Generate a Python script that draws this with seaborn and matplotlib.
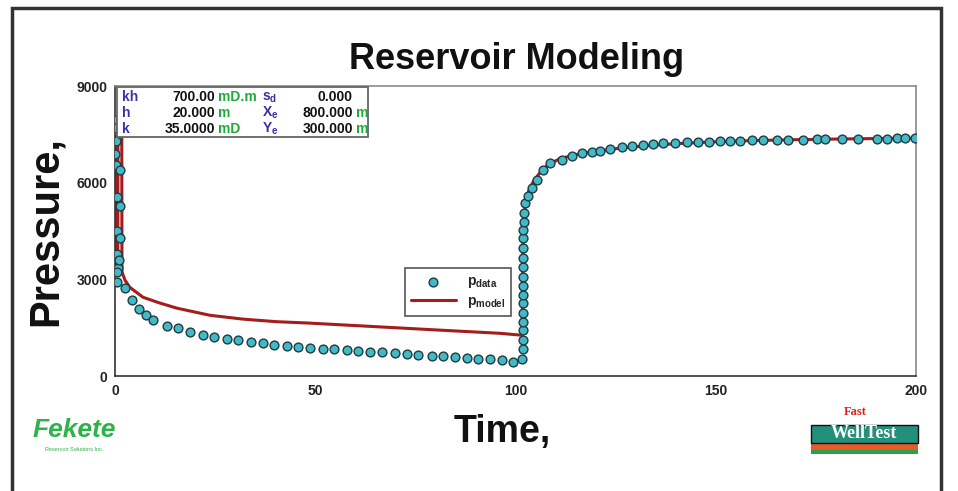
import numpy as np
import pandas as pd
import matplotlib
matplotlib.use("Agg")
import matplotlib.pyplot as plt
import matplotlib.patches as mpatches
import seaborn as sns

# Measured pressure points (time, pressure)
data_time = [0.0, 0.1, 0.2, 0.0, 0.3, 0.4, 0.5, 0.6, 0.7, 1.2, 1.3, 1.3, 0.9,
             0.5, 0.5, 2.5, 4.2, 6.0, 7.7, 9.5, 13.0, 15.7, 18.7, 22.0, 24.7,
             28.0, 30.7, 34.0, 37.0, 39.7, 43.0, 45.7, 48.7, 51.9, 54.7, 57.9,
             60.7, 63.7, 66.7, 69.9, 72.9, 75.7, 79.2, 81.9, 84.9, 87.9, 90.6,
             93.6, 96.6, 99.4, 101.7,
             101.9, 101.9, 101.9, 101.9, 101.9, 101.9, 101.9, 101.9, 101.9,
             101.9, 101.9, 101.9, 102.0, 102.0, 102.1, 102.2, 102.4,
             103.1, 104.1, 105.4, 106.9, 108.6, 111.6, 114.1, 116.6, 119.1,
             121.1, 123.6, 126.6, 129.1, 131.8, 134.3, 136.8, 139.8, 142.8,
             145.6, 148.3, 151.1, 153.6, 156.1, 159.0, 161.8, 165.3, 168.0,
             171.8, 175.3, 177.3, 181.5, 185.5, 190.3, 192.8, 195.3, 197.3,
             199.8]
data_pressure = [7950, 7700, 7300, 6900, 6550, 5550, 4500, 3800, 3350, 6400,
                 5300, 4300, 3600, 3230, 2920, 2730, 2360, 2080, 1890, 1740,
                 1550, 1490, 1370, 1270, 1210, 1150, 1120, 1060, 1020, 960,
                 930, 900, 880, 855, 830, 805, 780, 755, 735, 710, 685, 660,
                 635, 615, 590, 565, 545, 520, 500, 450, 540,
                 840, 1120, 1430, 1680, 1960, 2270, 2520, 2800, 3070, 3390,
                 3660, 3980, 4290, 4530, 4780, 5060, 5370,
                 5600, 5850, 6090, 6400, 6610, 6710, 6830, 6930, 6960, 6990,
                 7050, 7110, 7140, 7170, 7200, 7230, 7240, 7260, 7270, 7280,
                 7300, 7300, 7310, 7320, 7330, 7335, 7340, 7350, 7360, 7365,
                 7370, 7375, 7380, 7380, 7385, 7385, 7390]

# Model pressure curve
model_time = [0.0, 0.02, 0.7, 0.75, 1.7, 1.75, 2.0, 2.5, 3.7, 7.0, 11.2, 15.5,
              23.7, 32.0, 40.4, 48.0, 63.0, 79.4, 96.1, 101.6,
              101.7, 101.9, 102.2, 102.6, 103.3, 104.5, 106.0, 108.0, 111.0,
              115.0, 120.0, 126.0, 133.0, 140.0, 150.0, 160.0, 170.0, 180.0,
              190.0, 200.0]
model_pressure = [7450, 3400, 3300, 7450, 7450, 3250, 3150, 2980, 2760, 2450,
                  2270, 2110, 1890, 1770, 1690, 1650, 1550, 1440, 1330, 1270,
                  1270, 4200, 5000, 5450, 5750, 6050, 6300, 6550, 6750, 6880,
                  6980, 7080, 7160, 7220, 7280, 7320, 7345, 7365, 7380, 7390]

df_data = pd.DataFrame({"Time": data_time, "Pressure": data_pressure})
df_model = pd.DataFrame({"Time": model_time, "Pressure": model_pressure})

sns.set_style("white")
plt.rcParams["font.family"] = ["Liberation Sans", "DejaVu Sans"]
plt.rcParams["mathtext.fontset"] = "custom"
plt.rcParams["mathtext.rm"] = "Liberation Sans:bold"
plt.rcParams["mathtext.it"] = "Liberation Sans:bold"
plt.rcParams["mathtext.bf"] = "Liberation Sans:bold"

fig = plt.figure(figsize=(9.58, 4.91), dpi=100)
ax = fig.add_axes([0.120, 0.234, 0.836, 0.590])

sns.lineplot(data=df_model, x="Time", y="Pressure", sort=False, estimator=None,
             color="#a51c1c", linewidth=2.2, ax=ax, label=r"$p_{model}$", zorder=2)
sns.scatterplot(data=df_data, x="Time", y="Pressure", color="#45b8c6",
                edgecolor="#1c3c44", linewidth=1.0, s=40, ax=ax,
                label=r"$p_{data}$", zorder=3)

ax.set_xlim(0, 200)
ax.set_ylim(0, 9000)
ax.set_xticks([0, 50, 100, 150, 200])
ax.set_yticks([0, 3000, 6000, 9000])
ax.set_xlabel("")
ax.set_ylabel("")
ax.tick_params(axis="both", direction="inout", length=7, width=1, colors="#222222",
               labelsize=10, pad=2)
for lab in ax.get_xticklabels() + ax.get_yticklabels():
    lab.set_fontweight("bold")
for side in ["top", "right"]:
    ax.spines[side].set_color("#8a8a8a")
    ax.spines[side].set_linewidth(1.2)
for side in ["left", "bottom"]:
    ax.spines[side].set_color("#333333")
    ax.spines[side].set_linewidth(1.2)

# legend: data first, model second
handles, labels = ax.get_legend_handles_labels()
leg = ax.legend(handles[::-1], labels[::-1], loc="upper left",
                bbox_to_anchor=(0.362, 0.373), borderaxespad=0, fancybox=False,
                framealpha=1, edgecolor="#555555", fontsize=10, handlelength=3.2,
                borderpad=0.45, labelspacing=0.25)
leg.get_frame().set_linewidth(1.2)

# parameter table
tab = mpatches.Rectangle((0.003, 0.827), 0.313, 0.171, transform=ax.transAxes,
                         facecolor="white", edgecolor="#666666", linewidth=1.3, zorder=5)
ax.add_patch(tab)
purple = "#3b2fa5"
green = "#1faa3c"
rows = [
    ("kh", "700.00", "mD.m", r"$s_d$", "0.000", ""),
    ("h", "20.000", "m", r"$X_e$", "800.000", "m"),
    ("k", "35.0000", "mD", r"$Y_e$", "300.000", "m"),
]
for i, (n1, v1, u1, n2, v2, u2) in enumerate(rows):
    y = 0.962 - i * 0.054
    kw = dict(transform=ax.transAxes, va="center", fontsize=10, fontweight="bold", zorder=6)
    ax.text(0.009, y, n1, color=purple, ha="left", **kw)
    ax.text(0.125, y, v1, color="#111111", ha="right", **kw)
    ax.text(0.129, y, u1, color=green, ha="left", **kw)
    ax.text(0.183, y, n2, color=purple, ha="left", **kw)
    ax.text(0.297, y, v2, color="#111111", ha="right", **kw)
    ax.text(0.301, y, u2, color=green, ha="left", **kw)

# titles
fig.text(0.539, 0.878, "Reservoir Modeling", ha="center", va="center",
         fontsize=26, fontweight="bold", color="#111111")
fig.text(0.524, 0.12, "Time,", ha="center", va="center", fontsize=27,
         fontweight="bold", color="#111111")
fig.text(0.048, 0.53, "Pressure,", ha="center", va="center", fontsize=30,
         fontweight="bold", rotation=90, color="#111111")

# logos
fig.text(0.077, 0.125, "Fekete", ha="center", va="center", fontsize=19,
         color="#2db34a", style="italic", fontweight="bold")
fig.text(0.077, 0.085, "Reservoir Solutions Inc.", ha="center", va="center",
         fontsize=4, color="#2db34a")
fig.patches.append(mpatches.Rectangle((0.847, 0.075), 0.111, 0.009, transform=fig.transFigure,
                                      facecolor="#2fa04a", edgecolor="none", figure=fig))
fig.patches.append(mpatches.Rectangle((0.847, 0.084), 0.111, 0.015, transform=fig.transFigure,
                                      facecolor="#e85a2a", edgecolor="none", figure=fig))
fig.patches.append(mpatches.Rectangle((0.847, 0.098), 0.111, 0.037, transform=fig.transFigure,
                                      facecolor="#23907c", edgecolor="#111111",
                                      linewidth=1, figure=fig))
fig.text(0.902, 0.117, "WellTest", ha="center", va="center", fontsize=13,
         color="white", family=["Liberation Serif"], fontweight="bold")
fig.text(0.893, 0.16, "Fast", ha="center", va="center", fontsize=9,
         color="#d8261c", family=["Liberation Serif"], fontweight="bold")

# outer frame
fig.patches.append(mpatches.Rectangle((0.013, -0.05), 0.969, 1.034, transform=fig.transFigure,
                                      facecolor="none", edgecolor="#333333",
                                      linewidth=2.5, figure=fig))

fig.savefig("out.png", dpi=100)
